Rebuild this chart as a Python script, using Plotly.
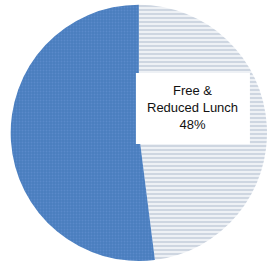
import plotly.graph_objects as go

labels = ["Free & Reduced Lunch", "Other"]
values = [48, 52]
colors = ["#EEF1F5", "#4A7EBF"]
pattern_fg = ["#C6D0DC", "#5A8ACA"]
pattern_shape = ["-", "."]
label_text = "Free &<br>Reduced Lunch<br>48%"

fig = go.Figure(go.Pie(
    labels=labels,
    values=values,
    sort=False,
    direction="clockwise",
    rotation=0,
    textinfo="none",
    hoverinfo="skip",
    marker=dict(
        colors=colors,
        line=dict(width=0),
        pattern=dict(shape=pattern_shape, fgcolor=pattern_fg, bgcolor=colors,
                     size=[4, 3], solidity=[0.4, 0.3], fillmode="replace"),
    ),
    domain=dict(x=[0.04, 1.0], y=[0.02, 0.985]),
    showlegend=False,
))

# white label box
fig.add_shape(type="rect", xref="paper", yref="paper",
              x0=0.509, x1=0.936, y0=0.461, y1=0.727,
              fillcolor="white", line=dict(width=0), layer="above")

fig.add_annotation(
    x=0.7225, y=0.597, xref="paper", yref="paper",
    text=label_text, showarrow=False,
    font=dict(family="Liberation Sans, Arial", size=13, color="#111111"),
    align="center", xanchor="center", yanchor="middle",
)

fig.update_layout(
    width=267, height=267,
    margin=dict(l=0, r=0, t=0, b=0),
    paper_bgcolor="white",
)

fig.write_html("out.html", config={"displayModeBar": False},
               post_script="document.body.style.margin='0px';")
